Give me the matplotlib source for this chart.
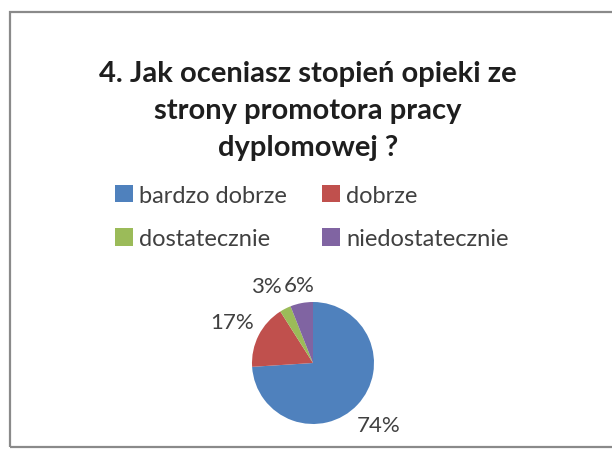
import matplotlib
matplotlib.use("Agg")
import matplotlib.pyplot as plt
from matplotlib.patches import Patch, Rectangle

plt.rcParams['font.family'] = ['Lato', 'DejaVu Sans']

# survey answers and share of respondents (%)
categories = ["bardzo dobrze", "dobrze", "dostatecznie", "niedostatecznie"]
shares = [74, 17, 3, 6]
colors = ["#4F81BD", "#C0504D", "#9BBB59", "#8064A2"]
title = "4. Jak oceniasz stopień opieki ze\nstrony promotora pracy\ndyplomowej ?"

fig = plt.figure(figsize=(6.12, 4.52), dpi=100)

# chart area frame
fig.patches.append(Rectangle((10 / 612, 4 / 452), 1.0, 435 / 452,
                             transform=fig.transFigure, fill=False,
                             edgecolor="#8a8a8a", linewidth=1.6))

fig.text(308 / 612, 1 - 111 / 452, title, ha="center", va="center",
         fontsize=21, fontweight="bold", color="#1e1e1e", linespacing=1.52)

# pie, drawn clockwise from 12 o'clock
r_px = 61
cx, cy = 313, 452 - 364
w = 2.5 * r_px
ax = fig.add_axes([(cx - w / 2) / 612, (cy - w / 2) / 452, w / 612, w / 452])
wedges, _, autotexts = ax.pie(shares, colors=colors, startangle=90,
                              counterclock=False, autopct="%.0f%%",
                              pctdistance=1.48, radius=1,
                              textprops=dict(fontsize=16, color="#404040"))
ax.set_xlim(-1.25, 1.25)
ax.set_ylim(-1.25, 1.25)
ax.set_aspect("equal")

# pull the two small-slice labels apart
x, y = autotexts[2].get_position()
autotexts[2].set_position((x - 0.1, y - 0.05))
x, y = autotexts[3].get_position()
autotexts[3].set_position((x + 0.05, y * 0.88))

# legend in two rows (matplotlib fills columns first)
order = [0, 2, 1, 3]
handles = [Patch(facecolor=colors[i], edgecolor="none") for i in order]
labels = [categories[i] for i in order]
fig.legend(handles, labels, ncol=2, loc="center",
           bbox_to_anchor=(312 / 612, 1 - 218 / 452), frameon=False,
           fontsize=17, handlelength=0.75, handleheight=0.75,
           handletextpad=0.25, columnspacing=1.5, labelspacing=0.95,
           labelcolor="#404040")

fig.savefig("out.png", dpi=100)
